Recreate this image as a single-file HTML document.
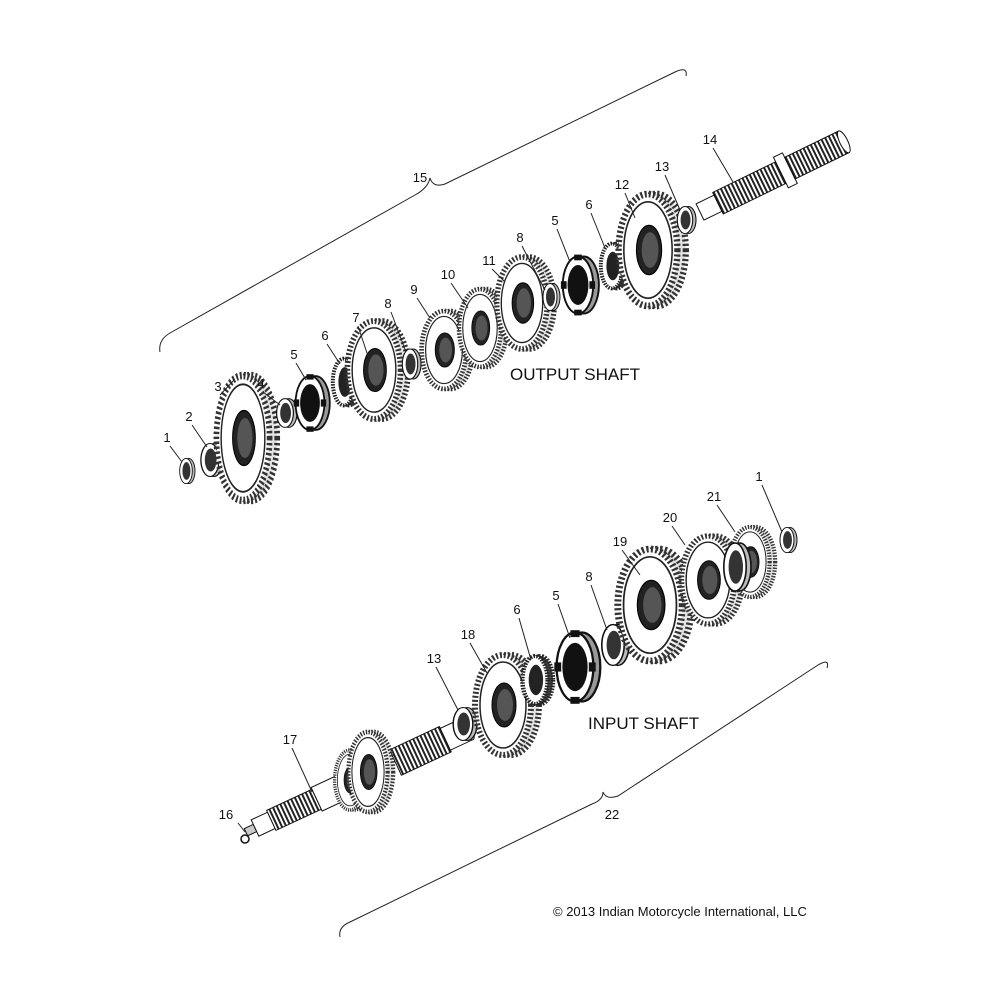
<!DOCTYPE html>
<html><head><meta charset="utf-8"><style>
html,body{margin:0;padding:0;background:#fff}
svg{display:block}
text{font-family:"Liberation Sans",sans-serif;fill:#111}
.n{font-size:13px;text-anchor:middle}
.l{stroke:#222;stroke-width:1;fill:none}
</style></head><body>
<svg width="1000" height="1000" viewBox="0 0 1000 1000" xmlns="http://www.w3.org/2000/svg">
<defs>
<g id="gear">
  <ellipse cx="8" cy="0" rx="28" ry="50" fill="#e4e4e4" stroke="#333" stroke-width="6" stroke-dasharray="2 2"/>
  <ellipse cx="0" cy="0" rx="28" ry="50" fill="#fff" stroke="#333" stroke-width="6" stroke-dasharray="2 2"/>
  <ellipse cx="0" cy="0" rx="23" ry="43" fill="#fff" stroke="#222" stroke-width="1.5"/>
  <ellipse cx="1" cy="0" rx="12" ry="22" fill="#222" stroke="#000" stroke-width="1"/>
  <ellipse cx="2" cy="0" rx="8" ry="16" fill="#555"/>
</g>
<g id="ring">
  <ellipse cx="6" cy="0" rx="14" ry="30" fill="#bbb" stroke="#111" stroke-width="2"/>
  <ellipse cx="0" cy="0" rx="14" ry="30" fill="#fff" stroke="#111" stroke-width="2"/>
  <ellipse cx="1" cy="0" rx="9" ry="21" fill="#333"/>
</g>
<g id="needle">
  <ellipse cx="6" cy="0" rx="14" ry="30" fill="#444" stroke="#222" stroke-width="5" stroke-dasharray="2 1.5"/>
  <ellipse cx="0" cy="0" rx="14" ry="30" fill="#fff" stroke="#222" stroke-width="5" stroke-dasharray="2 1.5"/>
  <ellipse cx="1" cy="0" rx="8" ry="19" fill="#222"/>
</g>
<g id="hub">
  <ellipse cx="6" cy="0" rx="16" ry="30" fill="#999" stroke="#111" stroke-width="2"/>
  <ellipse cx="0" cy="0" rx="16" ry="30" fill="#fff" stroke="#111" stroke-width="2"/>
  <ellipse cx="0" cy="0" rx="11" ry="21" fill="#111"/>
  <rect x="-4" y="-32" width="8" height="6" fill="#111"/><rect x="-4" y="26" width="8" height="6" fill="#111"/>
  <rect x="-18" y="-4" width="6" height="8" fill="#111"/><rect x="12" y="-4" width="6" height="8" fill="#111"/>
</g>
<pattern id="spl" width="4" height="4" patternUnits="userSpaceOnUse"><rect width="4" height="4" fill="#fff"/><rect width="2" height="4" fill="#222"/></pattern>
</defs>

<path class="l" d="M160 352 Q158 340 170 333 L415 195 Q428 188 430 178 Q433 188 445 184 L675 72 Q688 66 686 76"/>
<path class="l" d="M340 937 Q338 927 350 922 L592 804 Q603 800 603 792 Q606 800 618 796 L818 665 Q830 658 827 668"/>

<use href="#ring" transform="translate(186,471) scale(0.45,0.42)"/>
<use href="#ring" transform="translate(210,460) scale(0.65,0.55)"/>
<use href="#gear" transform="translate(243,438) scale(0.95,1.25)"/>
<use href="#ring" transform="translate(285,413) scale(0.6,0.48)"/>
<use href="#hub" transform="translate(310,403) scale(0.9,0.9)"/>
<use href="#needle" transform="translate(344,382) scale(0.8,0.78)"/>
<use href="#gear" transform="translate(374,370) scale(0.95,0.98)"/>
<use href="#ring" transform="translate(410,364) scale(0.55,0.5)"/>
<use href="#gear" transform="translate(444,350) scale(0.8,0.78)"/>
<use href="#gear" transform="translate(480,328) scale(0.75,0.78)"/>
<use href="#gear" transform="translate(522,303) scale(0.9,0.92)"/>
<use href="#ring" transform="translate(550,297) scale(0.5,0.45)"/>
<use href="#hub" transform="translate(578,285) scale(0.95,0.95)"/>
<use href="#needle" transform="translate(612,266) scale(0.8,0.75)"/>
<use href="#gear" transform="translate(648,250) scale(1.05,1.12)"/>
<use href="#ring" transform="translate(685,220) scale(0.55,0.45)"/>
<g transform="translate(700,212) rotate(-26)">
  <rect x="0" y="-9" width="20" height="18" fill="#fff" stroke="#111"/>
  <rect x="20" y="-12" width="70" height="24" fill="url(#spl)" stroke="#111"/>
  <rect x="90" y="-17" width="10" height="34" fill="#fff" stroke="#111"/>
  <rect x="100" y="-12" width="60" height="24" fill="url(#spl)" stroke="#111"/>
  <ellipse cx="160" cy="0" rx="4" ry="12" fill="#fff" stroke="#111"/>
</g>

<g transform="translate(255,828) rotate(-25)">
  <rect x="-10" y="-4" width="10" height="8" fill="#ccc" stroke="#111"/>
  <rect x="0" y="-9" width="18" height="18" fill="#fff" stroke="#111"/>
  <rect x="18" y="-11" width="50" height="22" fill="url(#spl)" stroke="#111"/>
  <rect x="68" y="-13" width="30" height="26" fill="#fff" stroke="#111"/>
  <rect x="155" y="-14" width="55" height="28" fill="url(#spl)" stroke="#111"/>
  <rect x="210" y="-12" width="25" height="24" fill="#fff" stroke="#111"/>
  <ellipse cx="235" cy="0" rx="4" ry="12" fill="#fff" stroke="#111"/>
</g>
<use href="#gear" transform="translate(350,780) scale(0.55,0.6)"/>
<use href="#gear" transform="translate(368,772) scale(0.7,0.8)"/>
<circle cx="245" cy="839" r="4" fill="#fff" stroke="#111" stroke-width="1.5"/>
<use href="#ring" transform="translate(463,724) scale(0.7,0.55)"/>
<use href="#gear" transform="translate(503,705) scale(1.0,1.0)"/>
<use href="#needle" transform="translate(535,680) scale(0.9,0.8)"/>
<use href="#hub" transform="translate(575,667) scale(1.15,1.15)"/>
<use href="#ring" transform="translate(613,645) scale(0.8,0.68)"/>
<use href="#gear" transform="translate(650,605) scale(1.15,1.12)"/>
<use href="#gear" transform="translate(708,580) scale(0.95,0.88)"/>
<use href="#gear" transform="translate(750,562) scale(0.7,0.7)"/>
<use href="#ring" transform="translate(735,567) scale(0.8,0.8)"/>
<use href="#ring" transform="translate(787,540) scale(0.5,0.42)"/>

<g class="l">
<path d="M170 446 L182 462"/><path d="M192 425 L207 447"/><path d="M220 395 L234 380"/>
<path d="M263 392 L280 405"/><path d="M296 363 L306 380"/><path d="M327 344 L340 364"/>
<path d="M358 326 L368 356"/><path d="M391 312 L406 352"/><path d="M417 298 L430 318"/>
<path d="M451 283 L468 308"/><path d="M492 269 L505 282"/><path d="M522 246 L545 290"/>
<path d="M557 229 L570 262"/><path d="M591 213 L605 248"/><path d="M625 193 L635 218"/>
<path d="M665 175 L680 210"/><path d="M713 148 L733 182"/>
<path d="M238 823 L245 832"/><path d="M292 748 L312 792"/>
<path d="M436 667 L458 710"/><path d="M470 643 L487 673"/><path d="M519 618 L531 660"/>
<path d="M558 604 L570 638"/><path d="M591 585 L607 630"/><path d="M622 550 L640 575"/>
<path d="M672 526 L685 545"/><path d="M717 505 L735 532"/><path d="M762 485 L782 532"/>
</g>
<g class="n">
<text x="167" y="442">1</text><text x="189" y="421">2</text><text x="218" y="391">3</text>
<text x="261" y="388">4</text><text x="294" y="359">5</text><text x="325" y="340">6</text>
<text x="356" y="322">7</text><text x="388" y="308">8</text><text x="414" y="294">9</text>
<text x="448" y="279">10</text><text x="489" y="265">11</text><text x="520" y="242">8</text>
<text x="555" y="225">5</text><text x="589" y="209">6</text><text x="622" y="189">12</text>
<text x="662" y="171">13</text><text x="710" y="144">14</text><text x="420" y="182">15</text>
<text x="226" y="819">16</text><text x="290" y="744">17</text><text x="434" y="663">13</text>
<text x="468" y="639">18</text><text x="517" y="614">6</text><text x="556" y="600">5</text>
<text x="589" y="581">8</text><text x="620" y="546">19</text><text x="670" y="522">20</text>
<text x="714" y="501">21</text><text x="759" y="481">1</text><text x="612" y="819">22</text>
</g>
<text x="510" y="380" style="font-size:17px">OUTPUT SHAFT</text>
<text x="588" y="729" style="font-size:17px">INPUT SHAFT</text>
<text x="553" y="916" style="font-size:13px">© 2013 Indian Motorcycle International, LLC</text>
</svg>
</body></html>
